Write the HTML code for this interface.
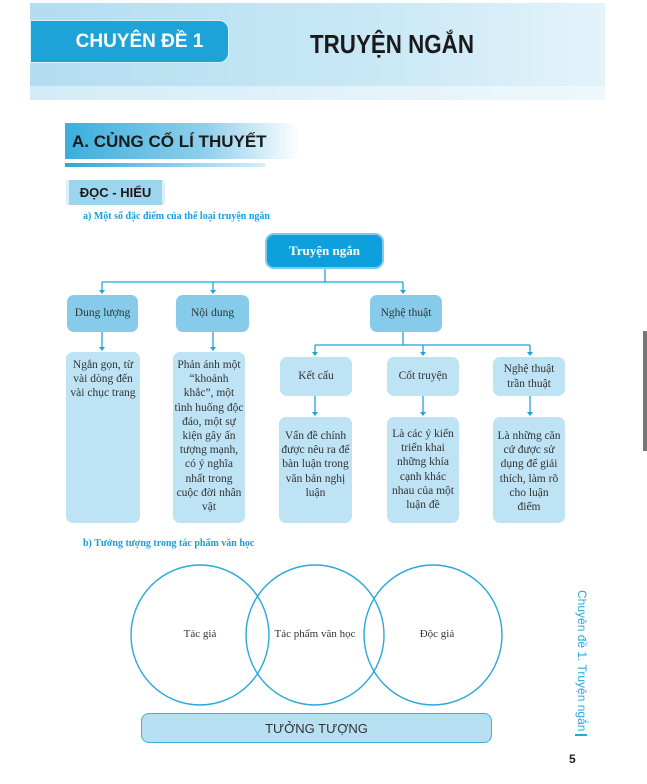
<!DOCTYPE html>
<html><head><meta charset="utf-8"><style>
*{margin:0;padding:0;box-sizing:border-box}
body{width:647px;height:784px;background:#fff;position:relative;overflow:hidden;font-family:"Liberation Serif",serif}
.a{position:absolute}
.b{position:absolute;display:flex;align-items:center;justify-content:center;text-align:center;border-radius:7px;font-size:11.5px;line-height:14.2px;color:#333;padding:0 5px}
.l1{background:#86cbea}
.l2{background:#bde3f4}
.t{align-items:flex-start;padding-top:6px}
</style></head><body>
<div class="a" style="left:30px;top:3px;width:575px;height:85px;background:linear-gradient(90deg,#b3ddf0,#c9e8f6 60%,#e4f3fa)"></div>
<div class="a" style="left:30px;top:86px;width:575px;height:14px;background:linear-gradient(90deg,#d3ecf7,#eef8fc)"></div>
<div class="a" style="left:30px;top:20px;width:199px;height:43px;background:#1ea3d9;border-radius:0 10px 10px 0;border:1px solid #d8f0fa;color:#fff;font:bold 19px 'Liberation Sans',sans-serif;display:flex;align-items:center;justify-content:center;padding-left:20px">CHUYÊN ĐỀ 1</div>
<div class="a" style="left:310px;top:29px;font:bold 26px 'Liberation Sans',sans-serif;color:#1a1a1a;transform:scaleX(0.86);transform-origin:left;white-space:nowrap">TRUYỆN NGẮN</div>
<div class="a" style="left:65px;top:123px;width:235px;height:36px;background:linear-gradient(90deg,#3aaedd,#8fd0ec 60%,#fff);border-radius:0 14px 0 0"></div>
<div class="a" style="left:72px;top:132px;font:bold 17px 'Liberation Sans',sans-serif;color:#1a1a1a;white-space:nowrap">A. CỦNG CỐ LÍ THUYẾT</div>
<div class="a" style="left:65px;top:163px;width:200px;height:4px;background:linear-gradient(90deg,#2aa6dc,#d9eff9)"></div>
<div class="a" style="left:66px;top:180px;width:99px;height:25px;background:#9ed5ee;border-left:3px solid #d9eff9;border-right:3px solid #d9eff9;border-radius:3px;font:bold 13px 'Liberation Sans',sans-serif;color:#1a1a1a;display:flex;align-items:center;justify-content:center">ĐỌC - HIỂU</div>
<div class="a" style="left:83px;top:211px;font:bold 10px 'Liberation Serif',serif;color:#1a9ed8;white-space:nowrap">a) Một số đặc điểm của thể loại truyện ngắn</div>

<svg class="a" style="left:0;top:0" width="647" height="784">
<g stroke="#1fa3dc" stroke-width="1.3" fill="none">
<path d="M325 269V282M102 282H403M102 282V293M213 282V293M403 282V293"/>
<path d="M102 332V350M213 332V350"/>
<path d="M403 332V345M315 345H530M315 345V355M423 345V355M530 345V355"/>
<path d="M315 396V415M423 396V415M530 396V415"/>
</g>
<g fill="#1fa3dc">
<path d="M99 290h6l-3 4z M210 290h6l-3 4z M400 290h6l-3 4z M99 347h6l-3 4z M210 347h6l-3 4z M312 352h6l-3 4z M420 352h6l-3 4z M527 352h6l-3 4z M312 412h6l-3 4z M420 412h6l-3 4z M527 412h6l-3 4z"/>
</g>
<g stroke="#2aa7dc" stroke-width="1.4" fill="none">
<ellipse cx="200" cy="635" rx="69" ry="70"/>
<ellipse cx="315" cy="635" rx="69" ry="70"/>
<ellipse cx="433" cy="635" rx="69" ry="70"/>
</g>
</svg>

<div class="b" style="left:265px;top:233px;width:119px;height:36px;background:#0ea0dc;border:2px solid #7fcbee;border-radius:9px;color:#fff;font-weight:bold;font-size:13px">Truyện ngắn</div>
<div class="b l1" style="left:67px;top:295px;width:71px;height:37px">Dung lượng</div>
<div class="b l1" style="left:176px;top:295px;width:73px;height:37px">Nội dung</div>
<div class="b l1" style="left:370px;top:295px;width:72px;height:37px">Nghệ thuật</div>
<div class="b l2 t" style="left:66px;top:352px;width:74px;height:171px;padding:6px 3px 0">Ngắn gọn, từ vài dòng đến vài chục trang</div>
<div class="b l2 t" style="left:173px;top:352px;width:72px;height:171px;padding:6px 1px 0">Phản ánh một “khoảnh khắc”, một tình huống độc đáo, một sự kiện gây ấn tượng mạnh, có ý nghĩa nhất trong cuộc đời nhân vật</div>
<div class="b l2" style="left:280px;top:357px;width:72px;height:39px">Kết cấu</div>
<div class="b l2" style="left:387px;top:357px;width:72px;height:39px">Cốt truyện</div>
<div class="b l2" style="left:493px;top:357px;width:72px;height:39px;padding:0 8px">Nghệ thuật trần thuật</div>
<div class="b l2 t" style="left:279px;top:417px;width:73px;height:106px;padding:12px 1px 0">Vấn đề chính được nêu ra để bàn luận trong văn bản nghị luận</div>
<div class="b l2 t" style="left:387px;top:417px;width:72px;height:106px;padding:10px 1px 0">Là các ý kiến triển khai những khía cạnh khác nhau của một luận đề</div>
<div class="b l2 t" style="left:493px;top:417px;width:72px;height:106px;padding:12px 4px 0">Là những căn cứ được sử dụng để giải thích, làm rõ cho luận điểm</div>

<div class="a" style="left:83px;top:538px;font:bold 10px 'Liberation Serif',serif;color:#1a9ed8;white-space:nowrap">b) Tưởng tượng trong tác phẩm văn học</div>
<div class="a" style="left:160px;top:628px;width:80px;text-align:center;font-size:11px;color:#333">Tác giả</div>
<div class="a" style="left:265px;top:628px;width:100px;text-align:center;font-size:11px;color:#333">Tác phẩm văn học</div>
<div class="a" style="left:397px;top:628px;width:80px;text-align:center;font-size:11px;color:#333">Độc giả</div>
<div class="a" style="left:141px;top:713px;width:351px;height:30px;background:#b8e0f3;border:1.5px solid #3aaedd;border-radius:8px;display:flex;align-items:center;justify-content:center;font:13px 'Liberation Sans',sans-serif;color:#333">TƯỞNG TƯỢNG</div>

<div class="a" style="left:575px;top:590px;writing-mode:vertical-rl;font:12px 'Liberation Sans',sans-serif;color:#2aa7dc;white-space:nowrap">Chuyên đề 1. Truyện ngắn</div>
<div class="a" style="left:575px;top:734px;width:12px;height:1.5px;background:#2aa7dc"></div>
<div class="a" style="left:569px;top:752px;font:bold 12px 'Liberation Sans',sans-serif;color:#222">5</div>
<div class="a" style="left:643px;top:331px;width:4px;height:120px;background:#777"></div>
</body></html>
